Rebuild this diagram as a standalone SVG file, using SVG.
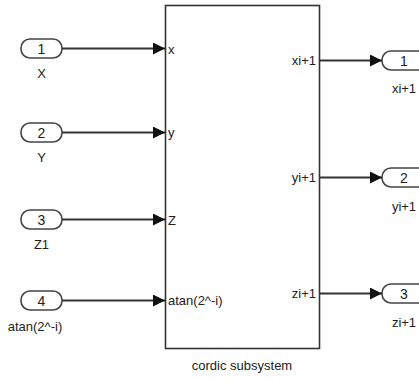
<svg xmlns="http://www.w3.org/2000/svg" width="419" height="381" viewBox="0 0 419 381">
<defs>
<style>
.port{fill:#fff;stroke:#444;stroke-width:1.6}
.num{font-family:"Liberation Sans",Arial,sans-serif;font-size:14px;fill:#222;text-anchor:middle}
.lbl{font-family:"Liberation Sans",Arial,sans-serif;font-size:13px;fill:#222;text-anchor:middle}
.pl{font-family:"Liberation Sans",Arial,sans-serif;font-size:13px;fill:#222}
.wire{stroke:#333;stroke-width:2.2;fill:none}
.box{fill:#fff;stroke:#333;stroke-width:1.6}
</style>
<marker id="ah" markerWidth="12" markerHeight="12" refX="12" refY="6" orient="auto" markerUnits="userSpaceOnUse">
<path d="M0,0 L12,6 L0,12 Z" fill="#111"/>
</marker>
</defs>
<rect width="419" height="381" fill="#fff"/>
<g id="subsystem">
<rect class="box" x="165.5" y="5.5" width="154" height="343"/>
<text class="pl" x="168" y="54">x</text>
<text class="pl" x="168" y="137">y</text>
<text class="pl" x="168" y="225">Z</text>
<text class="pl" x="168" y="305">atan(2^-i)</text>
<text class="pl" x="316" y="65" text-anchor="end">xi+1</text>
<text class="pl" x="316" y="182" text-anchor="end">yi+1</text>
<text class="pl" x="316" y="298" text-anchor="end">zi+1</text>
<text class="lbl" x="242" y="370">cordic subsystem</text>
</g>
<g id="in1">
<rect class="port" x="21" y="39" width="41" height="19" rx="9"/>
<text class="num" x="41.5" y="53.5">1</text>
<text class="lbl" x="41.5" y="78">X</text>
</g>
<g id="in2">
<rect class="port" x="21" y="123" width="41" height="19" rx="9"/>
<text class="num" x="41.5" y="137.5">2</text>
<text class="lbl" x="41.5" y="162">Y</text>
</g>
<g id="in3">
<rect class="port" x="21" y="210" width="41" height="19" rx="9"/>
<text class="num" x="41.5" y="224.5">3</text>
<text class="lbl" x="41.5" y="249">Z1</text>
</g>
<g id="in4">
<rect class="port" x="21" y="291" width="41" height="19" rx="9"/>
<text class="num" x="41.5" y="305.5">4</text>
<text class="lbl" x="35" y="331">atan(2^-i)</text>
</g>
<g id="out1">
<rect class="port" x="382" y="51" width="50" height="19" rx="9"/>
<text class="num" x="404" y="65.5">1</text>
<text class="lbl" x="404" y="93">xi+1</text>
</g>
<g id="out2">
<rect class="port" x="382" y="168" width="50" height="19" rx="9"/>
<text class="num" x="404" y="182.5">2</text>
<text class="lbl" x="404" y="211">yi+1</text>
</g>
<g id="out3">
<rect class="port" x="382" y="284" width="50" height="19" rx="9"/>
<text class="num" x="404" y="298.5">3</text>
<text class="lbl" x="404" y="327">zi+1</text>
</g>
<g id="connectors">
<line class="wire" x1="62" y1="48.5" x2="165" y2="48.5" marker-end="url(#ah)"/>
<line class="wire" x1="62" y1="132.5" x2="165" y2="132.5" marker-end="url(#ah)"/>
<line class="wire" x1="62" y1="219.5" x2="165" y2="219.5" marker-end="url(#ah)"/>
<line class="wire" x1="62" y1="300.5" x2="165" y2="300.5" marker-end="url(#ah)"/>
<line class="wire" x1="320" y1="60.5" x2="382" y2="60.5" stroke-width="1.6" marker-end="url(#ah)"/>
<line class="wire" x1="320" y1="177.5" x2="382" y2="177.5" stroke-width="1.6" marker-end="url(#ah)"/>
<line class="wire" x1="320" y1="293.5" x2="382" y2="293.5" stroke-width="1.6" marker-end="url(#ah)"/>
</g>
</svg>
